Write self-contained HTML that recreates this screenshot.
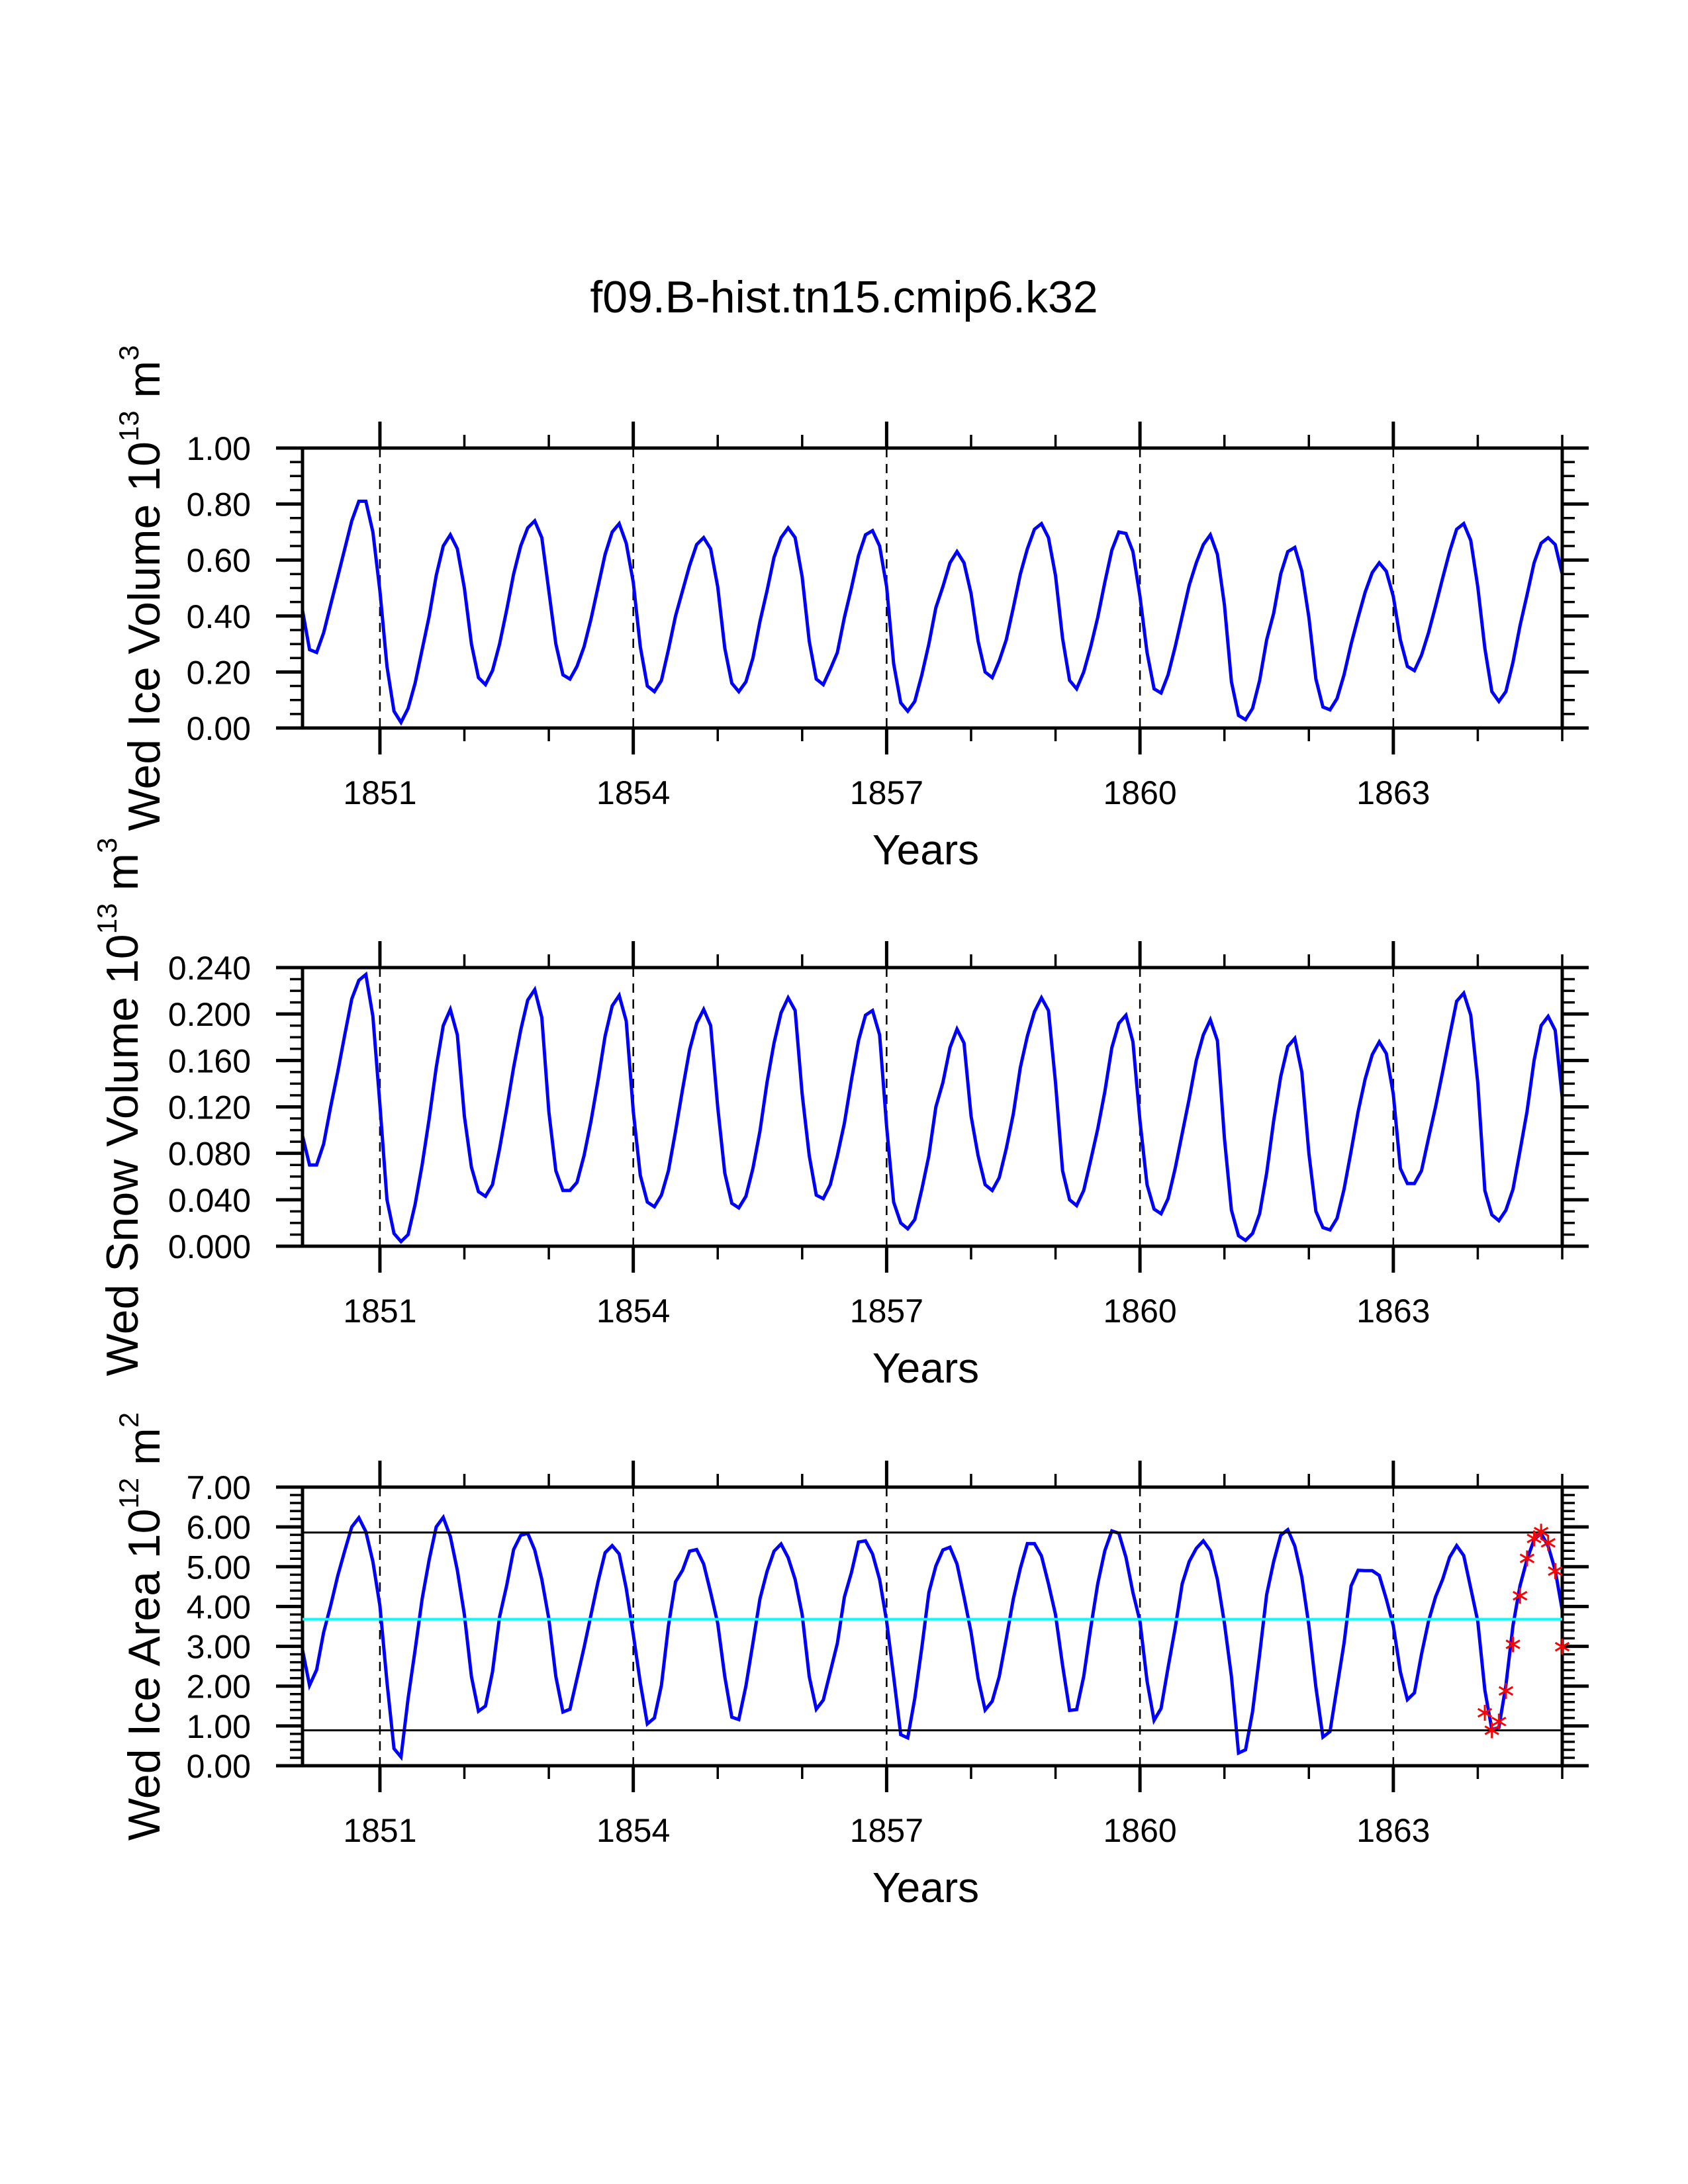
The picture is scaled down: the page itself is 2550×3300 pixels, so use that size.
<!DOCTYPE html>
<html><head><meta charset="utf-8"><title>f09.B-hist.tn15.cmip6.k32</title>
<style>
html,body{margin:0;padding:0;background:#fff;}
svg{display:block;font-family:"Liberation Sans",Arial,sans-serif;}
</style></head>
<body>
<svg id="chart" xmlns="http://www.w3.org/2000/svg" width="2550" height="3300" viewBox="0 0 2550 3300">
<rect x="0" y="0" width="2550" height="3300" fill="#fff"/>
<text x="1275" y="472" font-size="68" text-anchor="middle">f09.B-hist.tn15.cmip6.k32</text>
<g id="p1"></g>
<g id="p2"></g>
<g id="p3"></g>
</svg>
<script>
// ---- data ----
const startYear = 1850;
const yearTicks = [1851, 1854, 1857, 1860, 1863];
const iceVolume = [
0.42,0.28,0.27,0.34,0.44,0.54,0.64,0.74,0.81,0.81,0.70,0.49,
0.22,0.06,0.02,0.07,0.16,0.28,0.40,0.545,0.65,0.69,0.64,0.50,
0.30,0.18,0.155,0.205,0.30,0.42,0.55,0.65,0.715,0.74,0.68,0.49,
0.30,0.19,0.175,0.22,0.29,0.39,0.505,0.62,0.70,0.73,0.66,0.52,
0.29,0.15,0.13,0.17,0.28,0.40,0.49,0.58,0.655,0.68,0.64,0.505,
0.285,0.16,0.13,0.165,0.25,0.38,0.49,0.61,0.68,0.715,0.68,0.54,
0.31,0.175,0.155,0.21,0.27,0.395,0.50,0.615,0.69,0.705,0.65,0.505,
0.23,0.09,0.06,0.095,0.19,0.30,0.43,0.505,0.59,0.63,0.59,0.48,
0.31,0.20,0.18,0.24,0.315,0.43,0.55,0.64,0.71,0.73,0.68,0.545,
0.32,0.17,0.14,0.20,0.29,0.395,0.52,0.635,0.70,0.695,0.63,0.47,
0.27,0.14,0.125,0.19,0.29,0.40,0.51,0.59,0.655,0.69,0.62,0.44,
0.165,0.045,0.03,0.07,0.17,0.315,0.41,0.55,0.63,0.645,0.56,0.395,
0.175,0.075,0.065,0.105,0.19,0.30,0.395,0.485,0.555,0.59,0.56,0.47,
0.315,0.22,0.205,0.26,0.34,0.435,0.535,0.63,0.71,0.73,0.67,0.505,
0.285,0.13,0.095,0.13,0.235,0.365,0.475,0.59,0.66,0.68,0.655,0.55];
const snowVolume = [
0.095,0.070,0.070,0.088,0.120,0.150,0.182,0.213,0.229,0.234,0.198,0.122,
0.040,0.011,0.004,0.010,0.036,0.070,0.110,0.154,0.190,0.204,0.182,0.112,
0.068,0.047,0.043,0.053,0.084,0.118,0.154,0.186,0.212,0.221,0.197,0.116,
0.065,0.048,0.048,0.055,0.078,0.108,0.143,0.181,0.207,0.216,0.194,0.116,
0.061,0.038,0.034,0.044,0.065,0.099,0.135,0.169,0.192,0.204,0.190,0.120,
0.063,0.037,0.033,0.043,0.067,0.099,0.141,0.175,0.201,0.214,0.203,0.131,
0.078,0.044,0.041,0.053,0.078,0.106,0.143,0.177,0.199,0.203,0.182,0.103,
0.038,0.020,0.015,0.023,0.049,0.078,0.120,0.141,0.171,0.187,0.175,0.112,
0.078,0.053,0.048,0.059,0.084,0.114,0.154,0.181,0.202,0.214,0.203,0.141,
0.065,0.040,0.035,0.048,0.074,0.101,0.133,0.171,0.192,0.199,0.176,0.108,
0.053,0.032,0.028,0.041,0.067,0.097,0.127,0.160,0.182,0.195,0.177,0.093,
0.031,0.009,0.005,0.011,0.028,0.063,0.108,0.146,0.172,0.179,0.150,0.080,
0.030,0.016,0.014,0.024,0.049,0.082,0.116,0.144,0.165,0.176,0.166,0.131,
0.067,0.054,0.054,0.065,0.093,0.120,0.150,0.181,0.211,0.218,0.199,0.141,
0.048,0.027,0.022,0.031,0.049,0.082,0.116,0.160,0.190,0.198,0.186,0.128];
const iceArea = [
2.91,2.02,2.41,3.35,4.02,4.77,5.40,6.00,6.23,5.88,5.13,4.02,
2.10,0.43,0.22,1.69,2.91,4.19,5.18,6.00,6.24,5.76,4.91,3.80,
2.24,1.37,1.50,2.36,3.74,4.52,5.43,5.79,5.84,5.42,4.68,3.69,
2.24,1.35,1.42,2.19,2.97,3.80,4.63,5.35,5.53,5.32,4.46,3.30,
2.08,1.05,1.20,2.02,3.52,4.62,4.91,5.39,5.43,5.07,4.35,3.58,
2.24,1.22,1.16,2.00,3.08,4.19,4.88,5.39,5.57,5.23,4.68,3.80,
2.24,1.42,1.65,2.36,3.08,4.24,4.85,5.62,5.65,5.32,4.68,3.63,
2.24,0.78,0.70,1.69,2.97,4.35,5.02,5.42,5.49,5.07,4.24,3.35,
2.19,1.40,1.62,2.24,3.19,4.19,4.96,5.58,5.58,5.27,4.57,3.80,
2.52,1.39,1.41,2.24,3.46,4.57,5.40,5.90,5.84,5.24,4.35,3.63,
2.13,1.14,1.44,2.47,3.46,4.57,5.13,5.46,5.65,5.40,4.68,3.58,
2.24,0.32,0.40,1.36,2.80,4.30,5.13,5.79,5.93,5.52,4.74,3.52,
1.97,0.72,0.86,1.97,3.08,4.52,4.91,4.90,4.90,4.78,4.19,3.52,
2.36,1.66,1.83,2.80,3.63,4.24,4.68,5.24,5.53,5.28,4.46,3.63,
1.90,0.91,0.96,2.02,3.52,4.52,5.18,5.68,5.84,5.52,4.91,3.91];
const climArea = [1.33,0.89,1.11,1.88,3.05,4.27,5.21,5.71,5.88,5.60,4.89,2.99];
const climYear = 1864;
const refMax = [5.86];
const refMin = [0.89];
const refMean = [3.68];
const volTicks = ["0.00","0.20","0.40","0.60","0.80","1.00"];
const snowTicks = ["0.000","0.040","0.080","0.120","0.160","0.200","0.240"];
const areaTicks = ["0.00","1.00","2.00","3.00","4.00","5.00","6.00","7.00"];

// ---- layout ----
const NS = "http://www.w3.org/2000/svg";
const L = 457, R = 2360;
const xMin = startYear + 1/12, xMax = 1865.0;
function xs(t){ return L + (t - xMin) / (xMax - xMin) * (R - L); }
function mk(tag, attrs, parent){
  const e = document.createElementNS(NS, tag);
  for (const k in attrs) e.setAttribute(k, attrs[k]);
  parent.appendChild(e);
  return e;
}

function panel(gid, top, bottom, yMaxV, majorStep, minorStep, ticks, series, titleParts, titleX, names){
  const g = document.getElementById(gid);
  const ys = v => bottom - v / yMaxV * (bottom - top);
  // dashed year lines
  yearTicks.forEach(y => {
    const l = mk("line", {x1: xs(y), x2: xs(y), y1: top, y2: bottom, stroke: "#000", "stroke-width": 2.5, "stroke-dasharray": "14,10"}, g);
    
    
  });
  // series line
  const pts = series.map((v, i) => xs(startYear + (i + 1) / 12).toFixed(1) + "," + ys(v).toFixed(1)).join(" ");
  const pl = mk("polyline", {points: pts, fill: "none", stroke: "#0000ff", "stroke-width": 5, "stroke-linejoin": "miter"}, g);
  
  
  // frame
  const fr = mk("rect", {x: L, y: top, width: R - L, height: bottom - top, fill: "none", stroke: "#000", "stroke-width": 5}, g);
  
  
  // x ticks (every year), major labeled every 3 years
  for (let y = 1851; y <= 1865; y++) {
    const major = yearTicks.indexOf(y) >= 0;
    const len = major ? 40 : 20;
    const w = major ? 5 : 3.5;
    const a = mk("line", {x1: xs(y), x2: xs(y), y1: top, y2: top - len, stroke: "#000", "stroke-width": w}, g);
    
    
    const b = mk("line", {x1: xs(y), x2: xs(y), y1: bottom, y2: bottom + len, stroke: "#000", "stroke-width": w}, g);
    
    
  }
  yearTicks.forEach(y => {
    const t = mk("text", {x: xs(y), y: bottom + 115, "font-size": 50, "text-anchor": "middle"}, g);
    t.textContent = String(y);
    
    
  });
  const xt = mk("text", {x: (L + R) / 2 - 10, y: bottom + 206, "font-size": 64, "text-anchor": "middle"}, g);
  xt.textContent = "Years";
  
  
  // y ticks
  const nMinor = Math.round(yMaxV / minorStep);
  const ratio = Math.round(majorStep / minorStep);
  for (let i = 0; i <= nMinor; i++) {
    const v = i * minorStep;
    const major = i % ratio === 0;
    const len = major ? 40 : 19;
    const w = major ? 5 : 3.5;
    const a = mk("line", {x1: L, x2: L - len, y1: ys(v), y2: ys(v), stroke: "#000", "stroke-width": w}, g);
    
    
    const b = mk("line", {x1: R, x2: R + len, y1: ys(v), y2: ys(v), stroke: "#000", "stroke-width": w}, g);
    
    
  }
  ticks.forEach((lab, i) => {
    const t = mk("text", {x: 379, y: ys(i * majorStep) + 18, "font-size": 50, "text-anchor": "end"}, g);
    t.textContent = lab;
    
    
  });
  // y title
  const cy = (top + bottom) / 2;
  const yt = mk("text", {x: 0, y: 0, "font-size": 68, "text-anchor": "middle", transform: "translate(" + titleX + "," + cy + ") rotate(-90)"}, g);
  
  
  titleParts.forEach(p => {
    const ts = mk("tspan", p.sup ? {"font-size": 42, dy: -32} : (p.after ? {dy: 32} : {}), yt);
    ts.textContent = p.t;
  });
  return {g, ys};
}

const P1 = panel("p1", 677, 1100, 1.0, 0.2, 0.05, volTicks, iceVolume,
  [{t:"Wed Ice Volume 10"},{t:"13",sup:true},{t:" m",after:true},{t:"3",sup:true}], 241,
  {line: "ice-volume-line"});
const P2 = panel("p2", 1462, 1883, 0.24, 0.04, 0.01, snowTicks, snowVolume,
  [{t:"Wed Snow Volume 10"},{t:"13",sup:true},{t:" m",after:true},{t:"3",sup:true}], 208,
  {line: "snow-volume-line"});
const P3 = panel("p3", 2247, 2668, 7.0, 1.0, 0.2, areaTicks, iceArea,
  [{t:"Wed Ice Area 10"},{t:"12",sup:true},{t:" m",after:true},{t:"2",sup:true}], 241,
  {line: "ice-area-line"});

// reference lines in panel 3
function hline(v, color, w, name){
  const l = mk("line", {x1: L, x2: R, y1: P3.ys(v), y2: P3.ys(v), stroke: color, "stroke-width": w}, P3.g);
  
  
}
refMax.forEach(v => hline(v, "#000", 3, "clim-max-line"));
refMin.forEach(v => hline(v, "#000", 3, "clim-min-line"));
refMean.forEach(v => hline(v, "#00ffff", 4, "clim-mean-line"));
// climatology star markers
climArea.forEach((v, i) => {
  const cx = xs(climYear + (i + 1) / 12), cy = P3.ys(v), r = 12;
  const s = mk("g", {stroke: "#ff0000", "stroke-width": 3}, P3.g);
  
  
  for (let k = 0; k < 3; k++) {
    const a = Math.PI / 2 + k * Math.PI / 3;
    mk("line", {x1: cx - r * Math.cos(a), y1: cy - r * Math.sin(a), x2: cx + r * Math.cos(a), y2: cy + r * Math.sin(a)}, s);
  }
});
</script>
</body></html>
